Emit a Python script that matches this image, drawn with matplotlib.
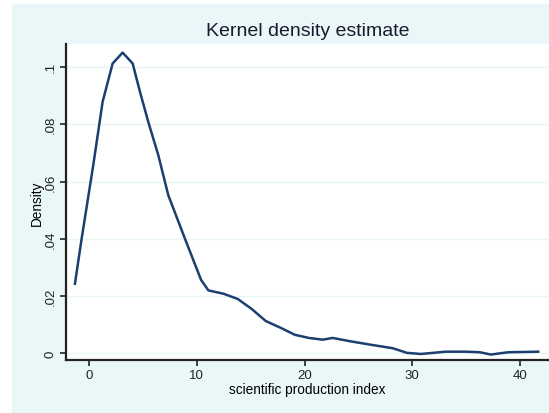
import matplotlib
matplotlib.use("Agg")
import matplotlib.pyplot as plt
from matplotlib.patches import Rectangle

# Kernel density curve
x_vals = [-1.32, -0.70, 0.38, 1.25, 2.18, 3.11, 4.04, 4.72, 5.49, 6.42, 7.35, 8.90,
          10.4, 11.07, 12.5, 13.8, 15.1, 16.4, 17.8, 19.1, 20.4, 21.7, 22.6, 24.3,
          26.2, 28.2, 29.5, 30.8, 33.1, 35.0, 36.3, 37.3, 38.9, 41.7]
density = [0.0243, 0.0400, 0.0657, 0.0878, 0.1012, 0.1050, 0.1012, 0.0913, 0.0808,
           0.0692, 0.0552, 0.0400, 0.0256, 0.0220, 0.0208, 0.0190, 0.0155, 0.0113,
           0.0089, 0.0065, 0.0054, 0.0048, 0.0054, 0.0042, 0.0030, 0.0018, 0.0002,
           -0.0002, 0.0006, 0.0006, 0.0004, -0.0004, 0.0004, 0.0006]
x_ticks = [0, 10, 20, 30, 40]
y_ticks = [0, 0.02, 0.04, 0.06, 0.08, 0.1]
y_tick_labels = ["0", ".02", ".04", ".06", ".08", ".1"]

plt.rcParams["font.family"] = ["Liberation Sans", "DejaVu Sans"]

fig = plt.figure(figsize=(5.49, 4.14), dpi=100)
bg = Rectangle((12 / 549, 0), 1, 1 - 5 / 414, transform=fig.transFigure,
               color="#eaf7f8", zorder=-10)
fig.add_artist(bg)

ax = fig.add_axes([66 / 549, 1 - 361 / 414, 1 - 66 / 549, (361 - 45) / 414])
ax.set_zorder(5)
ax.set_facecolor("white")
ax.plot(x_vals, density, color="#1b3f6e", lw=1.8, zorder=3)

ax.set_xlim(-2.15, 42.7)
ax.set_ylim(-0.0023, 0.108)
ax.set_xticks(x_ticks)
ax.set_yticks(y_ticks)
ax.set_yticklabels(y_tick_labels, rotation=90, va="center")
ax.tick_params(axis="both", direction="out", length=4, width=1.2, labelsize=9.5,
               colors="#222222", pad=2.5)
for y in y_ticks:
    ax.axhline(y, color="#eaf6f6", lw=1, zorder=1)

for s in ["top", "right"]:
    ax.spines[s].set_visible(False)
for s in ["left", "bottom"]:
    ax.spines[s].set_linewidth(1.6)
    ax.spines[s].set_color("#222222")

ax.set_xlabel("scientific production index", fontsize=9.8, labelpad=1)
ax.set_ylabel("Density", fontsize=9.8, labelpad=1)
fig.text(308 / 549, 1 - 32 / 414, "Kernel density estimate", ha="center", va="center",
         fontsize=14, color="#1a1a2e")

fig.savefig("out.png", dpi=100)
